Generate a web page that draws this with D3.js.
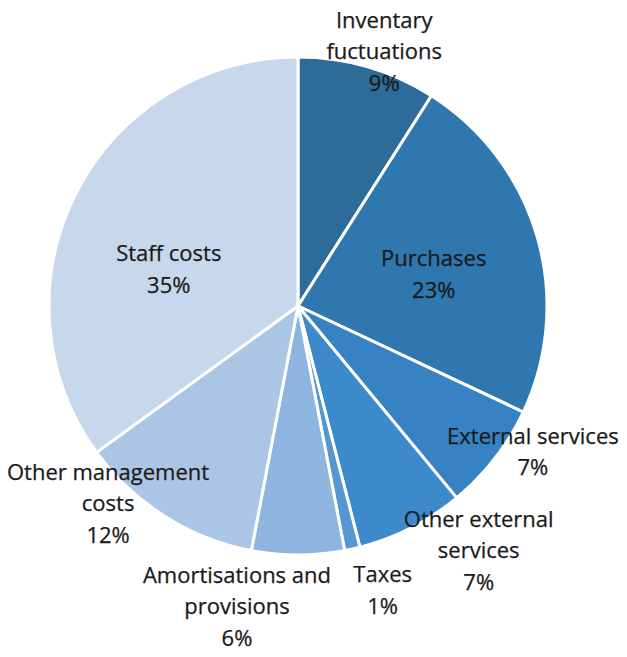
<!DOCTYPE html>
<html>
<head>
<meta charset="utf-8">
<script src="https://cdn.jsdelivr.net/npm/d3@7"></script>
<style>
  html, body { margin: 0; padding: 0; background: #ffffff; }
  svg { display: block; }
  .lbl { font-family: "Open Sans", "Noto Sans", sans-serif; font-size: 22px; fill: #1a1a1a; stroke: #1a1a1a; stroke-width: 0.25px; }
</style>
</head>
<body>
<svg id="chart" width="627" height="657"></svg>
<script>
// Cost breakdown (share of total, %)
const categories = [
  "Inventary fuctuations",
  "Purchases",
  "External services",
  "Other external services",
  "Taxes",
  "Amortisations and provisions",
  "Other management costs",
  "Staff costs"
];
const values = [9, 23, 7, 7, 1, 6, 12, 35];

// Label text lines per slice (percentage appended below)
const labelLines = [
  ["Inventary", "fuctuations"],
  ["Purchases"],
  ["External services"],
  ["Other external", "services"],
  ["Taxes"],
  ["Amortisations and", "provisions"],
  ["Other management", "costs"],
  ["Staff costs"]
];

const colors = [
  "#2d6b98", "#2f77af", "#3682c2", "#3c8acb",
  "#5597d3", "#8db5df", "#abc6e5", "#c8d8ec"
];

// Label placement: radius as a fraction of the pie radius, angular nudge in degrees
const labelLayout = [
  { k: 1.08, nudge: 2.5 },
  { k: 0.56, nudge: 3 },
  { k: 1.11, nudge: -6 },
  { k: 1.22, nudge: -9.5 },
  { k: 1.19, nudge: -4 },
  { k: 1.23, nudge: 11.5 },
  { k: 1.10, nudge: 11.5 },
  { k: 0.54, nudge: -11 }
];

const svg = d3.select("#chart");
const cx = 298, cy = 306, R = 249;
const lineH = 31.5;

const data = categories.map((c, i) => ({ name: c, value: values[i], i }));

const pie = d3.pie().sort(null).value(d => d.value);
const arcs = pie(data);
const arc = d3.arc().innerRadius(0).outerRadius(R);

const g = svg.append("g").attr("transform", `translate(${cx},${cy})`);

g.selectAll("path.slice")
  .data(arcs)
  .join("path")
  .attr("class", "slice")
  .attr("d", arc)
  .attr("fill", d => colors[d.data.i])
  .attr("stroke", "#ffffff")
  .attr("stroke-width", 3)
  .attr("stroke-linejoin", "round");

const fmt = d3.format(".0%");
const total = d3.sum(values);

g.selectAll("text.lbl")
  .data(arcs)
  .join("text")
  .attr("class", "lbl")
  .attr("text-anchor", "middle")
  .each(function(d) {
    const lay = labelLayout[d.data.i];
    const mid = (d.startAngle + d.endAngle) / 2 + lay.nudge * Math.PI / 180;
    const rr = R * lay.k;
    const x = Math.sin(mid) * rr;
    const y = -Math.cos(mid) * rr;
    const lines = labelLines[d.data.i].concat([fmt(d.data.value / total)]);
    const top = y - (lines.length - 1) * lineH / 2;
    const t = d3.select(this);
    lines.forEach((ln, j) => {
      t.append("tspan")
        .attr("x", x)
        .attr("y", top + j * lineH)
        .attr("dy", "0.36em")
        .text(ln);
    });
  });
</script>
</body>
</html>
